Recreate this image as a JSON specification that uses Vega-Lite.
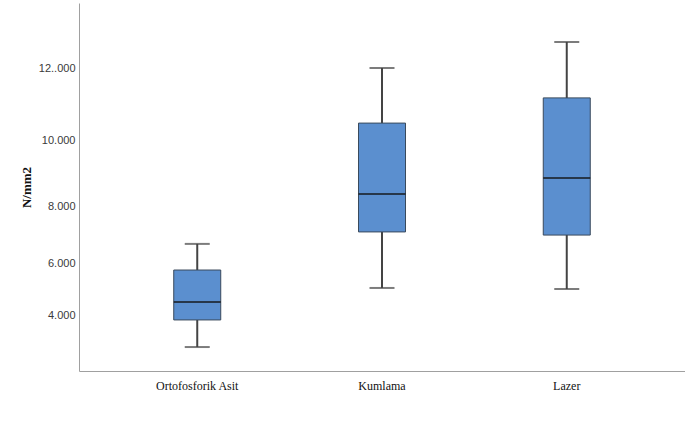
{
  "$schema": "https://vega.github.io/schema/vega-lite/v6.json",
  "autosize": {"type": "none"},
  "width": 606,
  "height": 368,
  "padding": {"left": 79, "top": 3, "right": 0, "bottom": 61},
  "background": "white",
  "config": {"view": {"stroke": null}},
  "data": {"values": [
    {"group": "Ortofosforik Asit", "lower": 2.77, "q1": 3.81, "median": 4.5, "q3": 5.73, "upper": 6.67},
    {"group": "Kumlama", "lower": 5.04, "q1": 7.09, "median": 8.36, "q3": 10.47, "upper": 12.0},
    {"group": "Lazer", "lower": 5.0, "q1": 6.98, "median": 8.85, "q3": 11.17, "upper": 12.72}
  ]},
  "encoding": {
    "x": {
      "field": "group", "type": "nominal", "sort": null,
      "scale": {"paddingInner": 0, "paddingOuter": 0.14},
      "axis": {"title": null, "labelAngle": 0, "ticks": false, "domainColor": "#a0a0a0", "domainWidth": 1,
               "labelFont": "Liberation Serif", "labelFontSize": 12, "labelColor": "#111111", "labelPadding": 9}
    }
  },
  "layer": [
    {
      "mark": {"type": "rule", "color": "#444", "strokeWidth": 2},
      "encoding": {
        "y": {"field": "lower", "type": "quantitative",
              "scale": {"domain": [1.85, 4, 6, 8, 10, 12, 13.8], "range": [368, 312, 260, 203, 137, 65, 0], "nice": false, "zero": false},
              "axis": {"title": "N/mm2", "values": [4, 6, 8, 10, 12], "grid": false, "ticks": false,
                       "domainColor": "#a0a0a0", "domainWidth": 1,
                       "labelExpr": "datum.value == 12 ? '12..000' : datum.value + '.000'",
                       "labelFont": "Liberation Sans", "labelFontSize": 11, "labelColor": "#3a3a3a", "labelPadding": 4,
                       "titleFont": "Liberation Serif", "titleFontSize": 13, "titleFontWeight": "bold", "titleColor": "#111111", "titlePadding": 5}},
        "y2": {"field": "upper"}
      }
    },
    {
      "mark": {"type": "bar", "size": 47, "fill": "#5B8FCF", "stroke": "#3a4a5c", "strokeWidth": 1},
      "encoding": {
        "y": {"field": "q1", "type": "quantitative"},
        "y2": {"field": "q3"}
      }
    },
    {
      "mark": {"type": "tick", "size": 47, "thickness": 2, "color": "#111"},
      "encoding": {"y": {"field": "median", "type": "quantitative"}}
    },
    {
      "mark": {"type": "tick", "size": 25, "thickness": 2, "color": "#444"},
      "encoding": {"y": {"field": "upper", "type": "quantitative"}}
    },
    {
      "mark": {"type": "tick", "size": 25, "thickness": 2, "color": "#444"},
      "encoding": {"y": {"field": "lower", "type": "quantitative"}}
    }
  ]
}
